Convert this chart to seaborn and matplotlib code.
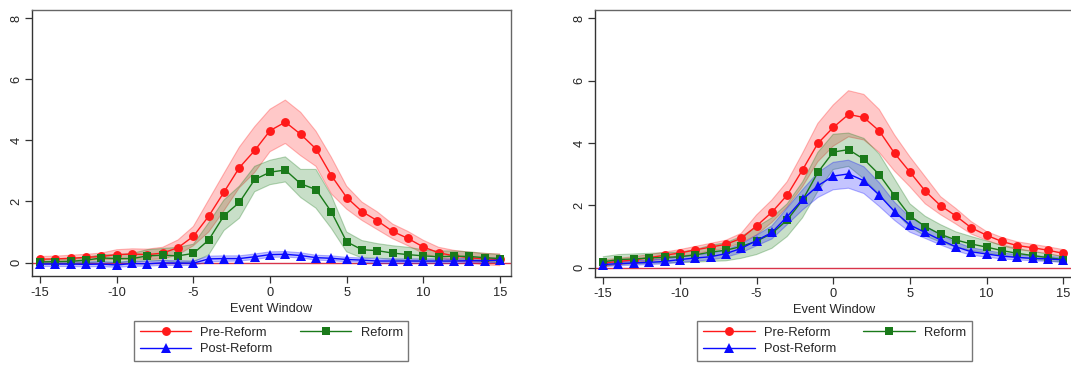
import numpy as np
import pandas as pd
import matplotlib
matplotlib.use("Agg")
import matplotlib.pyplot as plt
from matplotlib.lines import Line2D
import seaborn as sns

# Event window (days relative to event)
event_window = list(range(-15, 16))
x_ticks = [-15, -10, -5, 0, 5, 10, 15]
y_ticks = [0, 2, 4, 6, 8]
group_names = ["Pre-Reform", "Reform", "Post-Reform"]

# ---- Left panel: estimates and confidence bounds ----
left_pre = [0.11, 0.12, 0.14, 0.17, 0.20, 0.26, 0.28, 0.26, 0.31, 0.49, 0.86, 1.52, 2.31, 3.11, 3.67, 4.32,
            4.60, 4.20, 3.72, 2.85, 2.13, 1.67, 1.37, 1.02, 0.79, 0.51, 0.32, 0.22, 0.16, 0.12, 0.10]
left_pre_lo = [0.02, 0.03, 0.04, 0.07, 0.09, 0.10, 0.12, 0.10, 0.12, 0.25, 0.55, 1.00, 1.70, 2.45, 2.95, 3.63,
               3.90, 3.50, 3.15, 2.25, 1.75, 1.38, 1.08, 0.78, 0.55, 0.30, 0.15, 0.06, 0.00, -0.08, -0.10]
left_pre_hi = [0.20, 0.21, 0.24, 0.27, 0.31, 0.42, 0.45, 0.44, 0.50, 0.74, 1.18, 2.05, 2.92, 3.78, 4.45, 5.02,
               5.32, 4.92, 4.30, 3.45, 2.50, 1.98, 1.66, 1.26, 1.02, 0.73, 0.50, 0.40, 0.34, 0.30, 0.28]

left_ref = [0.02, 0.03, 0.04, 0.08, 0.15, 0.13, 0.13, 0.22, 0.24, 0.22, 0.30, 0.74, 1.54, 1.97, 2.72, 2.96,
            3.03, 2.58, 2.39, 1.66, 0.68, 0.42, 0.39, 0.31, 0.26, 0.22, 0.19, 0.21, 0.20, 0.16, 0.13]
left_ref_lo = [-0.05, -0.04, -0.03, -0.01, 0.02, 0.00, 0.02, 0.05, 0.06, 0.00, 0.02, 0.25, 1.05, 1.45, 2.32, 2.55,
               2.64, 2.13, 1.78, 1.12, 0.35, 0.15, 0.15, 0.10, 0.05, 0.03, 0.02, 0.04, 0.05, 0.03, 0.00]
left_ref_hi = [0.10, 0.11, 0.12, 0.17, 0.26, 0.25, 0.30, 0.42, 0.46, 0.50, 0.60, 1.30, 2.05, 2.50, 3.15, 3.35,
               3.46, 3.05, 3.05, 2.20, 1.00, 0.72, 0.62, 0.55, 0.50, 0.42, 0.38, 0.38, 0.35, 0.30, 0.27]

left_post = [-0.05, -0.05, -0.05, -0.06, -0.05, -0.08, -0.03, -0.04, -0.01, -0.02, -0.02, 0.12, 0.13, 0.13, 0.19, 0.26,
             0.27, 0.23, 0.16, 0.14, 0.10, 0.08, 0.05, 0.05, 0.05, 0.05, 0.05, 0.05, 0.06, 0.06, 0.08]
left_post_lo = [-0.13, -0.13, -0.13, -0.14, -0.13, -0.16, -0.12, -0.12, -0.09, -0.10, -0.09, 0.03, 0.04, 0.05, 0.10, 0.17,
                0.18, 0.15, 0.08, 0.06, 0.03, 0.01, -0.02, -0.02, -0.02, -0.02, -0.02, -0.02, -0.01, -0.01, 0.01]
left_post_hi = [0.03, 0.03, 0.03, 0.02, 0.03, 0.00, 0.06, 0.04, 0.07, 0.06, 0.05, 0.21, 0.22, 0.22, 0.28, 0.35,
                0.36, 0.32, 0.24, 0.22, 0.17, 0.15, 0.12, 0.12, 0.12, 0.12, 0.12, 0.12, 0.13, 0.13, 0.15]

# ---- Right panel: estimates and confidence bounds ----
right_pre = [0.15, 0.20, 0.25, 0.32, 0.40, 0.47, 0.57, 0.66, 0.75, 0.94, 1.34, 1.78, 2.33, 3.14, 3.99, 4.50,
             4.92, 4.82, 4.39, 3.67, 3.07, 2.46, 1.99, 1.66, 1.28, 1.04, 0.84, 0.71, 0.64, 0.56, 0.46]
right_pre_lo = [0.05, 0.10, 0.15, 0.22, 0.28, 0.36, 0.44, 0.54, 0.62, 0.80, 1.05, 1.45, 1.95, 2.60, 3.40, 3.90,
                4.20, 4.10, 3.70, 3.10, 2.60, 2.05, 1.70, 1.40, 1.08, 0.88, 0.70, 0.58, 0.52, 0.45, 0.35]
right_pre_hi = [0.25, 0.30, 0.35, 0.42, 0.50, 0.58, 0.68, 0.78, 0.88, 1.10, 1.69, 2.17, 2.76, 3.67, 4.63, 5.22,
                5.68, 5.56, 5.08, 4.26, 3.56, 2.92, 2.28, 1.90, 1.48, 1.16, 0.97, 0.83, 0.75, 0.67, 0.58]

right_ref = [0.19, 0.26, 0.28, 0.31, 0.33, 0.35, 0.41, 0.50, 0.56, 0.68, 0.85, 1.10, 1.53, 2.17, 3.06, 3.71,
             3.79, 3.48, 2.99, 2.31, 1.66, 1.32, 1.07, 0.89, 0.76, 0.66, 0.55, 0.46, 0.39, 0.32, 0.26]
right_ref_lo = [0.05, 0.10, 0.12, 0.14, 0.15, 0.16, 0.18, 0.20, 0.22, 0.30, 0.42, 0.62, 1.00, 1.60, 2.45, 3.15,
                3.25, 2.85, 2.35, 1.80, 1.30, 1.02, 0.82, 0.66, 0.55, 0.48, 0.40, 0.33, 0.27, 0.22, 0.17]
right_ref_hi = [0.35, 0.42, 0.44, 0.46, 0.48, 0.50, 0.58, 0.72, 0.80, 1.00, 1.30, 1.60, 2.05, 2.75, 3.70, 4.28,
                4.32, 4.15, 3.65, 2.85, 2.05, 1.65, 1.38, 1.15, 1.00, 0.86, 0.72, 0.62, 0.52, 0.44, 0.36]

right_post = [0.10, 0.13, 0.15, 0.17, 0.20, 0.26, 0.31, 0.35, 0.45, 0.62, 0.87, 1.13, 1.64, 2.19, 2.63, 2.94,
              3.01, 2.79, 2.33, 1.80, 1.37, 1.13, 0.89, 0.67, 0.51, 0.44, 0.37, 0.33, 0.30, 0.28, 0.25]
right_post_lo = [0.03, 0.06, 0.08, 0.10, 0.12, 0.17, 0.21, 0.25, 0.33, 0.48, 0.70, 0.92, 1.38, 1.85, 2.25, 2.50,
                 2.55, 2.38, 1.97, 1.52, 1.14, 0.94, 0.73, 0.54, 0.40, 0.34, 0.28, 0.25, 0.22, 0.20, 0.17]
right_post_hi = [0.17, 0.20, 0.22, 0.25, 0.28, 0.35, 0.41, 0.46, 0.57, 0.76, 1.04, 1.34, 1.92, 2.50, 3.05, 3.38,
                 3.45, 3.24, 2.73, 2.10, 1.62, 1.34, 1.06, 0.82, 0.64, 0.55, 0.47, 0.42, 0.38, 0.36, 0.33]

panels = [
    {"pos": [0.0296, 0.2447, 0.4472, 0.7279], "ylim": (-0.43, 8.27),
     "series": [(left_pre, left_pre_lo, left_pre_hi),
                (left_ref, left_ref_lo, left_ref_hi),
                (left_post, left_post_lo, left_post_hi)]},
    {"pos": [0.5553, 0.2419, 0.4475, 0.7307], "ylim": (-0.29, 8.27),
     "series": [(right_pre, right_pre_lo, right_pre_hi),
                (right_ref, right_ref_lo, right_ref_hi),
                (right_post, right_post_lo, right_post_hi)]},
]

colors = ["#ff1a1a", "#1a7a1a", "#0a0aff"]
markers = ["o", "s", "^"]
msizes = [6.4, 6.0, 6.8]

sns.set_style("white")
plt.rcParams["font.family"] = ["Liberation Sans", "DejaVu Sans"]
FS = 9.3

fig = plt.figure(figsize=(10.71, 3.65), dpi=100)

for p in panels:
    ax = fig.add_axes(p["pos"])
    # zero reference line
    ax.axhline(0, color="#d8344a", lw=1.0, zorder=1)
    for (mean, lo, hi), name, c in zip(p["series"], group_names, colors):
        ax.fill_between(event_window, lo, hi, facecolor=c, alpha=0.24, edgecolor="none", zorder=2)
        ax.plot(event_window, lo, color=c, alpha=0.3, lw=0.8, zorder=2)
        ax.plot(event_window, hi, color=c, alpha=0.3, lw=0.8, zorder=2)
    for (mean, lo, hi), name, c, m, ms in zip(p["series"], group_names, colors, markers, msizes):
        df = pd.DataFrame({"Event Window": event_window, "Estimate": mean})
        sns.lineplot(data=df, x="Event Window", y="Estimate", ax=ax, color=c, lw=1.0,
                     marker=m, markersize=ms, markeredgewidth=0, errorbar=None, zorder=3)
    ax.set_xlim(-15.55, 15.7)
    ax.set_ylim(*p["ylim"])
    ax.set_xticks(x_ticks)
    ax.set_yticks(y_ticks)
    ax.set_xticklabels([str(t) for t in x_ticks], fontsize=FS)
    ax.set_yticklabels([str(t) for t in y_ticks], fontsize=FS, rotation=90, va="center")
    ax.tick_params(axis="x", which="major", length=5, width=0.9, color="#333333",
                   direction="out", pad=3, bottom=True)
    ax.tick_params(axis="y", which="major", length=5, width=0.9, color="#333333",
                   direction="out", pad=1.5, left=True)
    ax.set_xlabel("Event Window", fontsize=FS, labelpad=3)
    ax.set_ylabel("")
    for side in ["left", "bottom"]:
        ax.spines[side].set_color("#333333")
        ax.spines[side].set_linewidth(1.0)
    for side in ["top", "right"]:
        ax.spines[side].set_color("#666666")
        ax.spines[side].set_linewidth(1.0)
    if ax.get_legend() is not None:
        ax.get_legend().remove()

    handles = [Line2D([], [], color=colors[i], lw=1.0, marker=markers[i], markersize=msizes[i],
                      markeredgewidth=0, label=group_names[i]) for i in (0, 2, 1)]
    cx = p["pos"][0] + p["pos"][2] / 2
    leg = fig.legend(handles=handles, loc="upper center", bbox_to_anchor=(cx, (365 - 320.7) / 365),
                     ncol=2, fontsize=FS, frameon=True, fancybox=False, handlelength=4.0,
                     handletextpad=0.7, columnspacing=2.1, labelspacing=0.35, borderpad=0.45,
                     borderaxespad=0)
    leg.get_frame().set_edgecolor("#555555")
    leg.get_frame().set_linewidth(1.0)

fig.savefig("out.png", dpi=100, facecolor="white")
